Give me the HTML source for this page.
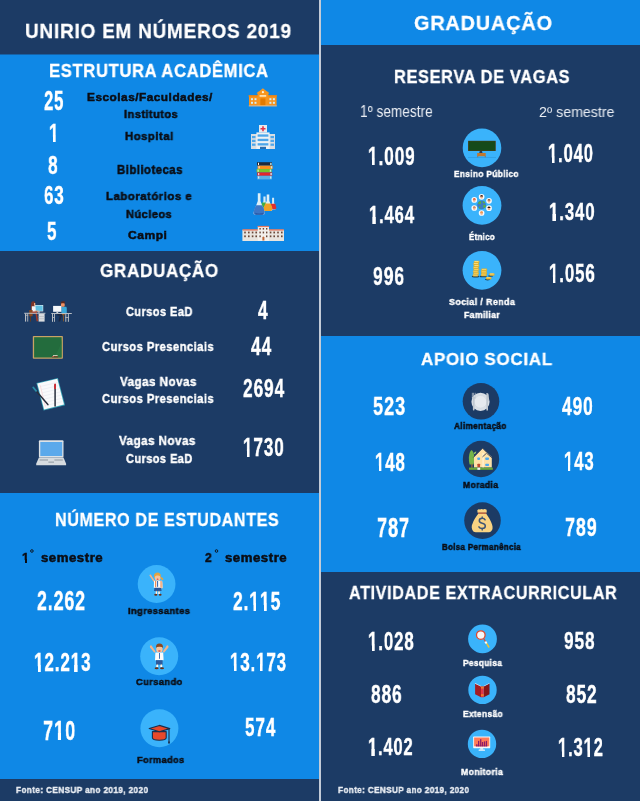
<!DOCTYPE html>
<html><head><meta charset="utf-8"><style>
*{margin:0;padding:0;box-sizing:border-box}
html,body{width:640px;height:801px;overflow:hidden;background:#1c3b65}
body{position:relative;font-family:"Liberation Sans",sans-serif}
.b{position:absolute}
.t{position:absolute;white-space:nowrap;line-height:1;transform-origin:0 0;will-change:transform}
svg{position:absolute;left:0;top:0}
.o{position:relative;display:inline-block}
.o>i{font-style:normal;display:inline-block;clip-path:inset(-1em -1em 0.36em -1em)}
.o::after{content:"";position:absolute;left:calc(0.2334em - var(--sw) - 0.2px);width:calc(0.1372em + 2*var(--sw) + 0.35px);top:0.58em;height:calc(0.2645em + var(--sw));background:currentColor}
</style></head><body>
<div class="b" style="left:0;top:0;width:319px;height:54px;background:#1c3b65"></div>
<div class="b" style="left:0;top:54px;width:319px;height:1px;background:#1662a6"></div>
<div class="b" style="left:0;top:55px;width:319px;height:196px;background:#0f88e6"></div>
<div class="b" style="left:0;top:251px;width:319px;height:242px;background:#1c3b65"></div>
<div class="b" style="left:0;top:493px;width:319px;height:286px;background:#0f88e6"></div>
<div class="b" style="left:0;top:779px;width:319px;height:22px;background:#1c3b65"></div>
<div class="b" style="left:319px;top:0;width:2px;height:801px;background:#c3cbd7"></div>
<div class="b" style="left:321px;top:0;width:319px;height:45px;background:#0f88e6"></div>
<div class="b" style="left:321px;top:45px;width:319px;height:291px;background:#1c3b65"></div>
<div class="b" style="left:321px;top:336px;width:319px;height:236px;background:#0f88e6"></div>
<div class="b" style="left:321px;top:572px;width:319px;height:229px;background:#1c3b65"></div>
<svg width="640" height="801" viewBox="0 0 640 801">
<!-- school -->
<g>
<rect x="249" y="95.6" width="27.6" height="10" fill="#f7931e"/>
<rect x="248.6" y="95.2" width="28.4" height="1.4" fill="#ee8512"/>
<rect x="257.6" y="91.8" width="10.8" height="13.8" fill="#f7961f"/>
<path d="M256.4 93.4 L262.9 88.2 L269.5 93.4 Z" fill="#f7961f"/>
<circle cx="262.9" cy="92.2" r="1.1" fill="#fff4dc"/>
<rect x="259.6" y="95" width="6.6" height="1.8" fill="#fde0b0"/>
<rect x="260.4" y="98.4" width="5" height="7.2" fill="#e47a00"/>
<g fill="#d2ecf2">
<rect x="251" y="98.2" width="2" height="2"/><rect x="254.5" y="98.2" width="2" height="2"/>
<rect x="251" y="101.8" width="2" height="2"/><rect x="254.5" y="101.8" width="2" height="2"/>
<rect x="269.4" y="98.2" width="2" height="2"/><rect x="272.9" y="98.2" width="2" height="2"/>
<rect x="269.4" y="101.8" width="2" height="2"/><rect x="272.9" y="101.8" width="2" height="2"/>
</g>
<rect x="248.8" y="105.4" width="28" height="1" fill="#f3c087"/>
</g>
<!-- hospital -->
<g>
<rect x="259" y="125" width="8" height="7.4" fill="#e6eaee"/>
<path d="M262.2 126.3h1.6v1.7h1.7v1.6h-1.7v1.7h-1.6v-1.7h-1.7v-1.6h1.7z" fill="#e3334a"/>
<rect x="251" y="134" width="24" height="15" fill="#d8dee3"/>
<rect x="256.4" y="132.4" width="13.2" height="16.6" fill="#eef2f5"/>
<g fill="#4da6ea">
<rect x="257.6" y="134.4" width="10.8" height="2.3"/>
<rect x="257.6" y="138.8" width="10.8" height="2.3"/>
<rect x="257.6" y="143.2" width="10.8" height="2.3"/>
<rect x="252" y="136" width="3.5" height="2.2"/><rect x="252" y="139.8" width="3.5" height="2.2"/><rect x="252" y="143.6" width="3.5" height="2.2"/>
<rect x="270.5" y="136" width="3.5" height="2.2"/><rect x="270.5" y="139.8" width="3.5" height="2.2"/><rect x="270.5" y="143.6" width="3.5" height="2.2"/>
</g>
<rect x="260" y="146.8" width="6" height="2.2" fill="#2a6eb0"/>
</g>
<!-- books -->
<g>
<rect x="257" y="162.2" width="15" height="3.4" fill="#1d2a3c"/>
<rect x="257.6" y="165.6" width="15" height="3.4" fill="#f7901e"/>
<rect x="256.6" y="169" width="15" height="3.4" fill="#78c42c"/>
<rect x="257.2" y="172.4" width="15" height="3.4" fill="#e3262a"/>
<rect x="257.2" y="175.8" width="14.6" height="3.6" fill="#5bb0e4"/>
<g fill="#f3f3f3"><rect x="258" y="162.8" width="1" height="2.2"/><rect x="258.6" y="166.2" width="1" height="2.2"/><rect x="257.6" y="169.6" width="1" height="2.2"/><rect x="258.2" y="173" width="1" height="2.2"/><rect x="258.2" y="176.4" width="1" height="2.2"/></g>
<g fill="#bfe6f2"><rect x="270.2" y="162.8" width="1.4" height="2.2"/><rect x="270.8" y="166.2" width="1.4" height="2.2"/><rect x="269.8" y="169.6" width="1.4" height="2.2"/><rect x="270.4" y="173" width="1.4" height="2.2"/><rect x="270" y="176.4" width="1.4" height="2.2"/></g>
</g>
<!-- flasks -->
<g>
<path d="M263.4 196.6h2.2v4.6l1.8 5q0.3 1.2-0.9 1.3h-4q-1.2-0.1-0.9-1.3l1.8-5z" fill="#eaf6fa" opacity="0.9"/>
<path d="M261.9 202.4h5l0.8 3.8q0.2 1.2-0.9 1.3h-4.8q-1.1-0.1-0.9-1.3z" fill="#42ad45"/>
<path d="M272.1 197.8h2v5l2 5.2q0.3 1.4-1.1 1.5h-3.8q-1.4-0.1-1.1-1.5l2-5.2z" fill="#eaf6fa" opacity="0.9"/>
<path d="M270.9 203.8h4.4l1 3.9q0.3 1.4-1.1 1.6h-4.2q-1.4-0.2-1.1-1.6z" fill="#df2f2f"/>
<path d="M266.7 194.4h2.6v6.4l3 8.2q0.3 1.8-1.5 2h-5.6q-1.8-0.2-1.5-2l3-8.2z" fill="#eef7fa" opacity="0.92"/>
<path d="M265.4 203.6h5.2q1.8 3.4 1.7 5.6q-0.1 1.6-1.6 1.8h-5.4q-1.5-0.2-1.6-1.8q-0.1-2.2 1.7-5.6z" fill="#efa126"/>
<path d="M257.8 193.2h2.7v7.8l4.2 11.6q0.4 2-1.6 2.2h-8q-2-0.2-1.6-2.2l4.3-11.6z" fill="#eef7fa" opacity="0.92"/>
<path d="M256.2 205.2h5.9q2.4 4.2 2.6 7.4q0.1 2-1.6 2.2h-8q-1.7-0.2-1.6-2.2q0.2-3.2 2.7-7.4z" fill="#3c76c6"/>
<path d="M255.2 212.8q3.9 1.6 8.1 0v1.2q-0.4 0.8-1 0.8h-6.2q-0.8 0-0.9-0.8z" fill="#2a5aa6"/>
</g>
<!-- campus -->
<g>
<rect x="242.4" y="229.8" width="41.6" height="11.2" fill="#e9e4de"/>
<rect x="242.6" y="229.2" width="41.2" height="1.4" fill="#e57a60"/>
<rect x="257.8" y="226.4" width="11.2" height="14.6" fill="#f3f0ec"/>
<rect x="257.6" y="225.9" width="11.6" height="1.2" fill="#e57a60"/>
<g fill="#6a4838">
<rect x="244.2" y="231.6" width="1.6" height="1.8"/><rect x="248" y="231.6" width="1.6" height="1.8"/><rect x="251.8" y="231.6" width="1.6" height="1.8"/><rect x="255.4" y="231.6" width="1.6" height="1.8"/>
<rect x="244.2" y="235.4" width="1.6" height="1.8"/><rect x="248" y="235.4" width="1.6" height="1.8"/><rect x="251.8" y="235.4" width="1.6" height="1.8"/><rect x="255.4" y="235.4" width="1.6" height="1.8"/>
<rect x="269.8" y="231.6" width="1.6" height="1.8"/><rect x="273.4" y="231.6" width="1.6" height="1.8"/><rect x="277.2" y="231.6" width="1.6" height="1.8"/><rect x="281" y="231.6" width="1.6" height="1.8"/>
<rect x="269.8" y="235.4" width="1.6" height="1.8"/><rect x="273.4" y="235.4" width="1.6" height="1.8"/><rect x="277.2" y="235.4" width="1.6" height="1.8"/><rect x="281" y="235.4" width="1.6" height="1.8"/>
<rect x="259.4" y="228" width="1.4" height="1.6"/><rect x="262.7" y="228" width="1.4" height="1.6"/><rect x="266" y="228" width="1.4" height="1.6"/>
<rect x="259.4" y="231.6" width="1.4" height="1.8"/><rect x="262.7" y="231.6" width="1.4" height="1.8"/><rect x="266" y="231.6" width="1.4" height="1.8"/>
<rect x="259.4" y="235.4" width="1.4" height="1.8"/><rect x="266" y="235.4" width="1.4" height="1.8"/>
</g>
<path d="M262.4 240.4v-3q1-1.6 2 0v3z" fill="#c0683a"/>
</g>

<!-- EaD desks -->
<g>
<!-- left desk -->
<rect x="25" y="313.6" width="1.1" height="8" fill="#b9bdc2"/>
<rect x="27.3" y="313.6" width="0.9" height="8" fill="#b9bdc2"/>
<rect x="25" y="314.8" width="3.2" height="0.8" fill="#b9bdc2"/>
<rect x="38.6" y="313.6" width="6" height="8" fill="#d9dcdf"/>
<rect x="38.6" y="316.2" width="6" height="0.5" fill="#a8adb3"/><rect x="38.6" y="318.6" width="6" height="0.5" fill="#a8adb3"/>
<rect x="34.8" y="305" width="8.4" height="6.4" fill="#eef2f4"/>
<rect x="35.3" y="305.5" width="7.4" height="5.4" fill="#5ec0e2"/>
<rect x="37.8" y="311.4" width="2" height="1.2" fill="#cfd4d8"/>
<rect x="30.2" y="316" width="0.8" height="5.6" fill="#6a3a1a"/>
<path d="M31 309.8Q30.6 304 31.6 302Q33 300.6 34.6 301.6Q35.3 302.6 35 304L34.2 306.2L33.6 309.8Z" fill="#7a3428"/>
<rect x="34" y="303" width="1.3" height="2.8" fill="#f0a880"/>
<path d="M31.8 306.2H35.2Q35.8 309 35.6 312.6H31.8Z" fill="#f2f2f4"/>
<rect x="34.6" y="310.6" width="3.8" height="1" fill="#f0a880"/>
<rect x="29.2" y="310" width="3.4" height="6.2" rx="0.5" fill="#8a4a22"/>
<path d="M32 311.6H37V313L38.2 321.3H36.6L35.5 313.5H32Z" fill="#a03a28"/>
<rect x="24.2" y="312.8" width="21.2" height="0.9" fill="#c9ccd0"/>
<!-- right desk -->
<rect x="52" y="313.9" width="1" height="7.9" fill="#b9bdc2"/>
<rect x="54" y="313.9" width="0.9" height="7.9" fill="#b9bdc2"/>
<rect x="52" y="317.2" width="2.9" height="0.8" fill="#b9bdc2"/>
<rect x="65.3" y="313.9" width="1" height="7.9" fill="#b9bdc2"/><rect x="67.9" y="313.9" width="1" height="7.9" fill="#b9bdc2"/>
<rect x="65.3" y="317.2" width="3.6" height="0.8" fill="#b9bdc2"/>
<path d="M61.4 306.8H66.2Q67 307.4 66.8 309.8V313H61.4Z" fill="#3aa8d8"/>
<rect x="61" y="302.9" width="3.7" height="3.8" rx="1" fill="#f09060"/>
<path d="M60.2 303.4Q60.6 301.2 62.6 301.2H64.2Q65.3 301.4 65.1 303.3H60.2Z" fill="#5e2a1e"/>
<rect x="53.1" y="305.9" width="8.3" height="5.9" fill="#f6f8fa"/>
<rect x="56.4" y="311.6" width="1.8" height="1.4" fill="#d0d4d8"/>
<path d="M57.4 314H62.2V315.4L60 321.4H58.4L59.8 315.4H57.4Z" fill="#1e2840"/>
<rect x="62" y="314" width="2.8" height="1.2" fill="#8a5a2a"/>
<rect x="63" y="315.2" width="0.9" height="6.2" fill="#8a5a2a"/>
<rect x="51.3" y="313" width="20.5" height="0.9" fill="#c9ccd0"/>
</g>
<!-- chalkboard -->
<g>
<rect x="32.8" y="335.9" width="30.1" height="22.9" rx="0.8" fill="#c9a364"/>
<rect x="34.1" y="337.2" width="27.5" height="20.3" fill="#236c3d"/>
<path d="M61.6 339q-1 9-8 18.5h8z" fill="#2a7744" opacity="0.7"/>
<rect x="52" y="356" width="6" height="1.4" fill="#6a4a2a"/>
<rect x="53" y="355.2" width="4.6" height="0.8" fill="#e8e4d0"/>
<rect x="52.4" y="356" width="1.4" height="0.8" fill="#e07070"/>
</g>
<!-- notepad -->
<g>
<path d="M36.4 383.1 L57.9 377.9 L65.1 405.3 L43.6 410.5 Z" fill="#36a3b6"/>
<path d="M37.3 383.6 L57.3 378.8 L64 404.6 L44.1 409.5 Z" fill="#f9fafb"/>
<g stroke="#d5dde8" stroke-width="0.35">
<path d="M40.8 386.4L57.6 382.4M41.6 389.6L58.4 385.6M42.4 392.8L59.2 388.8M43.2 396L60 392M44 399.2L60.8 395.2M44.8 402.4L61.6 398.4M45.6 405.6L62.4 401.6"/>
</g>
<path d="M40.2 385.2L45.4 406.6" stroke="#f3b0b0" stroke-width="0.4"/>
<path d="M33.6 388 L47.9 404.6" stroke="#2a2f3d" stroke-width="1.5" stroke-linecap="round"/>
<path d="M33.3 387.5 L36.1 390.8" stroke="#2a8fa8" stroke-width="1.9" stroke-linecap="round"/>
<path d="M55.1 385 L55.1 406" stroke="#343a48" stroke-width="1.6" stroke-linecap="round"/>
<path d="M55.1 384.4 L55.1 388.2" stroke="#d42a30" stroke-width="1.8" stroke-linecap="round"/>
</g>
<!-- laptop -->
<g>
<rect x="38.9" y="440.2" width="24.6" height="17.4" rx="1" fill="#dde2e6"/>
<rect x="40.3" y="442" width="21.9" height="14" fill="#5ba9eb"/>
<path d="M38.9 457.4 H63.5 L66.1 463.8 V465.2 H36.2 V463.8 Z" fill="#d6dbdf"/>
<rect x="39.6" y="459" width="8.4" height="2" fill="#b2b9bf"/>
<rect x="54.4" y="459" width="8.4" height="2" fill="#b2b9bf"/>
<rect x="48.4" y="461.4" width="5.6" height="1.6" fill="#a9b1b8"/>
</g>

<!-- circles -->
<g fill="#3ab3fb">
<circle cx="156.6" cy="584" r="18.9"/>
<circle cx="159.2" cy="656.2" r="19"/>
<circle cx="159.4" cy="728.3" r="19"/>
<circle cx="482" cy="147.9" r="19.3"/>
<circle cx="482" cy="205.4" r="19.4"/>
<circle cx="482" cy="270.3" r="19.4"/>
<circle cx="482.5" cy="638.9" r="14.4"/>
<circle cx="482.5" cy="689.9" r="14.2"/>
<circle cx="482" cy="743.9" r="14.2"/>
</g>
<g fill="#1c3b65">
<circle cx="481" cy="401.3" r="18.3"/>
<circle cx="481" cy="459" r="18.2"/>
<circle cx="482.5" cy="520.6" r="18.3"/>
</g>
<!-- girl -->
<g>
<path d="M149.4 575.6q0.4-1.4 1.6-0.8l0.8 1.4l3 4.6l-1.2 1z" fill="#f3b48a"/>
<path d="M160.2 577.2q2.6-0.6 3.4 2.4q-1.4 0.8-2.8-0.6z" fill="#e3a342"/>
<path d="M154 577.6q-0.6-5 3.4-5.2q3.6 0 3.4 5.2z" fill="#e3a342"/>
<rect x="154.8" y="575.4" width="5.6" height="5.4" rx="2.2" fill="#f7c49c"/>
<path d="M154.6 575.8q2.8-2.4 6 0v-1.2q-3-2.2-6 0z" fill="#e3a342"/>
<ellipse cx="157.6" cy="579.2" rx="0.9" ry="0.6" fill="#d8454a"/>
<path d="M154 580.8h8.2l0.4 7.2h-8.8z" fill="#fbfbfb"/>
<rect x="155.1" y="580.8" width="1.1" height="6.4" fill="#e8824a"/>
<rect x="160.5" y="580.8" width="1.1" height="6.4" fill="#e8824a"/>
<rect x="157.1" y="581" width="1" height="5.8" fill="#2b62b0"/>
<rect x="161.2" y="582.2" width="1.3" height="6.4" rx="0.6" fill="#f3b48a"/>
<path d="M154.4 587.8h6.6l0.6 3.2h-7.6z" fill="#2b5596"/>
<rect x="155.9" y="590.9" width="1.1" height="2.6" fill="#f7c49c"/><rect x="158.5" y="590.9" width="1.1" height="2.6" fill="#f7c49c"/>
<rect x="155.7" y="592.2" width="1.5" height="1.8" fill="#ffffff"/><rect x="158.3" y="592.2" width="1.5" height="1.8" fill="#ffffff"/>
<ellipse cx="155.8" cy="594.8" rx="1.6" ry="0.95" fill="#6a3018"/><ellipse cx="160.2" cy="594.8" rx="1.4" ry="0.95" fill="#6a3018"/>
</g>
<!-- boy -->
<g>
<path d="M150 647.4q-0.6-1.8 0.8-2.2q1.4 0.2 1.4 1.4l3.4 5l-1.2 1.2z" fill="#f3b48a"/>
<path d="M168.4 647.4q0.6-1.8-0.8-2.2q-1.4 0.2-1.4 1.4l-3.4 5l1.2 1.2z" fill="#f3b48a"/>
<path d="M156 647.6q-0.2-3.8 3.4-4q3.8 0.2 3.6 4z" fill="#8b4a22"/>
<rect x="156.2" y="646.4" width="6.4" height="6" rx="2.4" fill="#f7c49c"/>
<path d="M156.1 647.6q0.4-2.6 3.3-2.8q3 0.2 3.3 2.8q-1.6-1-3.3-1q-1.7 0-3.3 1z" fill="#8b4a22"/>
<ellipse cx="159.4" cy="651" rx="1.3" ry="0.7" fill="#d8454a"/>
<path d="M155.4 652.4h7.8l0.4 7.8h-8.6z" fill="#fbfbfb"/>
<rect x="159" y="653" width="0.9" height="5.8" fill="#2b62b0"/>
<path d="M156 660.2h6.6v4.4h-6.6z" fill="#2c5a9c"/>
<rect x="156.6" y="664.4" width="1.4" height="2.6" fill="#f7c49c"/><rect x="160.6" y="664.4" width="1.4" height="2.6" fill="#f7c49c"/>
<rect x="156.4" y="665.2" width="1.8" height="1.8" fill="#fff"/><rect x="160.4" y="665.2" width="1.8" height="1.8" fill="#fff"/>
<ellipse cx="156.6" cy="668.2" rx="2" ry="1" fill="#6a3018"/><ellipse cx="162" cy="668.2" rx="2" ry="1" fill="#6a3018"/>
</g>
<!-- grad cap -->
<g stroke="#1c2e4c" stroke-width="1.1" stroke-linejoin="round">
<path d="M152.4 731.6v6.2q0 2.4 6.9 2.4t6.9-2.4v-6.2z" fill="#e8492b"/>
<path d="M149.2 728.6 L159.4 725.4 L169.8 728.6 L159.4 731.8 Z" fill="#e8492b"/>
<path d="M169 729v12.4" fill="none"/>
</g>
<path d="M150.6 728.4 L159.4 725.9 L168.4 728.4" stroke="#3ab3fb" stroke-width="0.9" fill="none" opacity="0.0"/>
<ellipse cx="169" cy="742.4" rx="0.9" ry="1.3" fill="#1c2e4c"/>
<!-- reserva: chalkboard -->
<g>
<rect x="468.1" y="140.8" width="27.6" height="10.2" fill="#5a3a1a"/>
<rect x="468.6" y="141.3" width="26.6" height="9.2" fill="#154a19"/>
<path d="M479.2 153.2Q479.4 150.4 480.8 150.4Q482.4 150.4 482.6 153.2Z" fill="#2a3a52"/>
<rect x="477.2" y="153" width="8.5" height="3.2" fill="#c0782e"/>
<rect x="477.4" y="156.2" width="0.8" height="1.4" fill="#a0602a"/><rect x="484.8" y="156.2" width="0.8" height="1.4" fill="#a0602a"/>
<rect x="468" y="157.3" width="28" height="0.7" fill="#2f9be0"/>
</g>
<!-- reserva: globe with faces -->
<g>
<circle cx="481.6" cy="204.9" r="4.4" fill="#3c7cc2"/>
<path d="M478 203.2q1.2-2.4 3-1.8q0.6 1.6-0.6 2.6q-1.4 0.6-2.4-0.8z M482.6 201.2q2 0 2.6 1.4q-0.6 1-1.8 0.6z M483.4 205q1.6-0.6 2.4 1q-0.4 1.8-1.8 2q-1.2-1.2-0.6-3z M479.2 206.4q1.2 0 1.4 1.6q-0.6 0.8-1.6 0.2z" fill="#5db03c"/>
<circle cx="481.6" cy="196.8" r="2.85" fill="#fbfbfb"/>
<rect x="480.3" y="195.4" width="2.6" height="3.2" rx="1" fill="#eeb08a"/>
<path d="M480.2 195.8q1.3-1.6 2.8 0v0.8h-2.8z" fill="#3a2018"/>
<circle cx="489.0" cy="200.8" r="2.85" fill="#fbfbfb"/>
<rect x="487.7" y="199.4" width="2.6" height="3.2" rx="1" fill="#eeb08a"/>
<path d="M487.6 199.8q1.3-1.6 2.8 0v0.8h-2.8z" fill="#8a5030"/>
<circle cx="489.0" cy="208.2" r="2.85" fill="#fbfbfb"/>
<rect x="487.7" y="206.8" width="2.6" height="3.2" rx="1" fill="#eeb08a"/>
<path d="M487.6 207.2q1.3-1.6 2.8 0v0.8h-2.8z" fill="#2a1a10"/>
<circle cx="481.6" cy="213.0" r="2.85" fill="#fbfbfb"/>
<rect x="480.3" y="211.6" width="2.6" height="3.2" rx="1" fill="#eeb08a"/>
<path d="M480.2 212.0q1.3-1.6 2.8 0v0.8h-2.8z" fill="#f09040"/>
<circle cx="474.3" cy="208.0" r="2.85" fill="#fbfbfb"/>
<rect x="473.0" y="206.6" width="2.6" height="3.2" rx="1" fill="#eeb08a"/>
<path d="M472.9 207.0q1.3-1.6 2.8 0v0.8h-2.8z" fill="#c08060"/>
<circle cx="474.3" cy="199.9" r="2.85" fill="#fbfbfb"/>
<rect x="473.0" y="198.5" width="2.6" height="3.2" rx="1" fill="#eeb08a"/>
<path d="M472.9 198.9q1.3-1.6 2.8 0v0.8h-2.8z" fill="#e0603a"/>
</g>
<!-- reserva: coins -->
<g>
<ellipse cx="475.6" cy="276.6" rx="3.8" ry="1" fill="#0d1a2a" opacity="0.75"/>
<ellipse cx="483.2" cy="276.4" rx="3.4" ry="0.9" fill="#0d1a2a" opacity="0.75"/>
<ellipse cx="487.6" cy="279.6" rx="2.8" ry="0.8" fill="#0d1a2a" opacity="0.75"/>
<ellipse cx="490.6" cy="276" rx="2.6" ry="0.8" fill="#0d1a2a" opacity="0.75"/>
<rect x="472.6" y="274.2" width="5.8" height="2.3" rx="1.1" fill="#e2b22e"/>
<rect x="473.2" y="274.5" width="4.4" height="0.9" rx="0.45" fill="#f7dc7c"/>
<rect x="473.2" y="272.3" width="5.8" height="2.3" rx="1.1" fill="#e2b22e"/>
<rect x="473.8" y="272.6" width="4.4" height="0.9" rx="0.45" fill="#f7dc7c"/>
<rect x="472.8" y="270.4" width="5.8" height="2.3" rx="1.1" fill="#e2b22e"/>
<rect x="473.4" y="270.7" width="4.4" height="0.9" rx="0.45" fill="#f7dc7c"/>
<rect x="473.4" y="268.5" width="5.8" height="2.3" rx="1.1" fill="#e2b22e"/>
<rect x="474.0" y="268.8" width="4.4" height="0.9" rx="0.45" fill="#f7dc7c"/>
<rect x="473.0" y="266.6" width="5.8" height="2.3" rx="1.1" fill="#e2b22e"/>
<rect x="473.6" y="266.9" width="4.4" height="0.9" rx="0.45" fill="#f7dc7c"/>
<rect x="473.6" y="264.7" width="5.8" height="2.3" rx="1.1" fill="#e2b22e"/>
<rect x="474.2" y="265.0" width="4.4" height="0.9" rx="0.45" fill="#f7dc7c"/>
<rect x="473.2" y="262.8" width="5.8" height="2.3" rx="1.1" fill="#e2b22e"/>
<rect x="473.8" y="263.1" width="4.4" height="0.9" rx="0.45" fill="#f7dc7c"/>
<rect x="473.7" y="260.8" width="5.8" height="2.3" rx="1.1" fill="#e2b22e"/>
<rect x="474.3" y="261.1" width="4.4" height="0.9" rx="0.45" fill="#f7dc7c"/>
<rect x="480.8" y="274.0" width="6.0" height="2.3" rx="1.1" fill="#e2b22e"/>
<rect x="481.4" y="274.3" width="4.6" height="0.9" rx="0.45" fill="#f7dc7c"/>
<rect x="481.1" y="272.1" width="6.0" height="2.3" rx="1.1" fill="#e2b22e"/>
<rect x="481.7" y="272.4" width="4.6" height="0.9" rx="0.45" fill="#f7dc7c"/>
<rect x="480.9" y="270.2" width="6.0" height="2.3" rx="1.1" fill="#e2b22e"/>
<rect x="481.5" y="270.5" width="4.6" height="0.9" rx="0.45" fill="#f7dc7c"/>
<rect x="481.2" y="268.6" width="6.0" height="2.3" rx="1.1" fill="#e2b22e"/>
<rect x="481.8" y="268.9" width="4.6" height="0.9" rx="0.45" fill="#f7dc7c"/>
<rect x="489.2" y="273.2" width="5.4" height="2.5" rx="1.1" fill="#e2b22e"/>
<rect x="489.8" y="273.5" width="4.0" height="0.9" rx="0.45" fill="#f7dc7c"/>
<rect x="485.9" y="277.0" width="5.6" height="2.5" rx="1.1" fill="#e2b22e"/>
<rect x="486.5" y="277.3" width="4.2" height="0.9" rx="0.45" fill="#f7dc7c"/>
</g>
<!-- plate -->
<g>
<circle cx="480.5" cy="401.8" r="9.1" fill="#d9dfe6"/>
<circle cx="480.5" cy="401.8" r="6.3" fill="#e6eaef" stroke="#cdd4dc" stroke-width="0.5"/>
<g fill="#bfc7d0">
<rect x="472.9" y="398" width="1.6" height="12.4" rx="0.7"/>
<rect x="471.9" y="392.8" width="0.7" height="4.6"/><rect x="473.35" y="392.8" width="0.7" height="4.6"/><rect x="474.8" y="392.8" width="0.7" height="4.6"/>
<path d="M471.9 397h3.6v1.6q-1.8 0.8-3.6 0z"/>
<path d="M486.4 393q2.4-0.6 2.4 3.4v4.8h-0.8v9.2h-1.6z"/>
</g>
</g>
<!-- house -->
<g>
<path d="M469.6 464.6Q468.6 461 468.9 457Q469.4 451.8 471.6 450.1Q473.8 451.8 474.3 457Q474.6 461 473.6 464.6Z" fill="#74b448"/>
<path d="M473.8 453.6Q474.4 451.6 476.4 451.6Q476.2 453.6 474.2 454.2Z" fill="#9ccf6a"/>
<rect x="471.3" y="463.8" width="1.2" height="4" fill="#a0703a"/>
<path d="M474 467.6V456.8L482.6 448.2L486.6 452.2L491.8 457V467.6Z" fill="#fde1a8"/>
<rect x="482.4" y="453" width="1.4" height="14.6" fill="#fff0cf"/>
<path d="M473.6 457.2L482.6 448.2L486.4 452" stroke="#3a4258" stroke-width="0.9" fill="none" stroke-linecap="round"/>
<path d="M482.8 456.6L486.6 453.2L492 457.8" stroke="#3a4258" stroke-width="0.9" fill="none" stroke-linecap="round"/>
<g fill="#4aa8f0"><rect x="477.2" y="457.6" width="2.9" height="2.3" rx="0.8"/><rect x="485.2" y="457.6" width="3.8" height="2.3" rx="0.8"/><rect x="485.2" y="463.7" width="3.8" height="2.3" rx="0.8"/></g>
<rect x="477.4" y="463.7" width="2.7" height="3.9" rx="0.6" fill="#c24a30"/>
<rect x="469" y="467.6" width="23.8" height="2.2" fill="#6aa83a"/>
<rect x="477.4" y="467.7" width="2.8" height="2.1" fill="#f6f6f6"/>
</g>
<!-- money bag -->
<g>
<path d="M477.6 512.8L477.3 510.2Q478.4 508.9 480 509.6Q481.5 508.5 483.1 509.4Q484.7 508.6 486.4 509.6Q487.2 510.8 486.5 512.8Z" fill="#f9d382"/>
<path d="M478.4 513.6C476 517 473.5 520 472.6 523.6C471.3 525.8 471.4 529 473 531C474 532.3 476 532.4 478 532.3L487 532.3C489.5 532.4 491.8 531.8 492.5 529C493.1 526 491.6 523 490.6 521C489.1 518 487.6 516 486.1 513.6Z" fill="#f9d382"/>
<rect x="478.2" y="512.5" width="8" height="1.3" fill="#c8603a"/>
<path d="M485.1 519.8Q484.3 518.3 482.2 518.3Q479.3 518.3 479.3 520.8Q479.3 522.8 482.2 523.2Q485.3 523.6 485.3 526Q485.3 528.5 482.2 528.5Q479.7 528.5 478.9 526.9" fill="none" stroke="#3e5575" stroke-width="1.5" stroke-linecap="round"/>
<path d="M482.2 516.8V518.4M482.2 528.4V530" stroke="#3e5575" stroke-width="1.3" stroke-linecap="round"/>
</g>
<!-- magnifier -->
<g stroke-linecap="round">
<path d="M483.8 638.8L485.6 641.8" stroke="#e04a2e" stroke-width="1.1"/>
<path d="M486.6 643.4L488.8 647" stroke="#f2c230" stroke-width="1.5"/>
<path d="M485.3 641.6L486.6 643.5" stroke="#ffffff" stroke-width="1.9" stroke-linecap="butt"/>
<circle cx="480.8" cy="635.1" r="4.3" fill="#f6f7f8" stroke="#e04a2e" stroke-width="1.3"/>
</g>
<!-- book -->
<g>
<path d="M475.1 683.6L481 686.5V697.3L475.1 694.3Z" fill="#a51c22"/>
<path d="M483.7 686.5L489.5 683.4V694.3L483.7 697.3Z" fill="#86161a"/>
<path d="M475.1 683.1L481 686V686.6L475.1 683.7Z M483.7 686L489.5 682.9V683.5L483.7 686.6Z" fill="#f4f4f4"/>
<rect x="481" y="686.4" width="2.7" height="10.9" fill="#e23444"/>
<rect x="481" y="686.6" width="2.7" height="2" fill="#f07a2a"/>
<rect x="481" y="694.2" width="2.7" height="2" fill="#f07a2a"/>
</g>
<!-- monitor -->
<g>
<rect x="473.2" y="736.6" width="17" height="11.6" rx="0.6" fill="#f6f8fa"/>
<rect x="474.1" y="737.5" width="15.2" height="8.8" fill="#ff7a58"/>
<g fill="#8a1a6a">
<rect x="476.2" y="744.2" width="1.25" height="2.1"/>
<rect x="478.0" y="740.9" width="1.25" height="5.4"/>
<rect x="480.1" y="739.2" width="1.25" height="7.1"/>
<rect x="481.9" y="742.0" width="1.25" height="4.3"/>
<rect x="483.9" y="741.4" width="1.25" height="4.9"/>
<rect x="485.8" y="740.9" width="1.25" height="5.4"/>
<rect x="475.8" y="745.6" width="11.6" height="0.7"/>
</g>
<rect x="480.2" y="748" width="3" height="1.6" fill="#dfe9f2"/>
<rect x="478.6" y="749.4" width="6.4" height="1.4" rx="0.5" fill="#f6f8fa"/>
</g>
<!-- degree rings -->
<g fill="none" stroke="#0b0d14" stroke-width="0.9">
<circle cx="31.9" cy="551" r="1.3"/>
<circle cx="216.5" cy="551" r="1.3"/>
</g>
</svg>

<div class="t" style="left:25.05px;top:20.3px;font-size:21.08px;font-weight:700;color:#ffffff;transform:scaleX(0.9);-webkit-text-stroke:0.3px #ffffff;letter-spacing:0.86px;">UNIRIO EM NÚMEROS 2019</div>
<div class="t" style="left:48.74px;top:61.62px;font-size:18.46px;font-weight:700;color:#ffffff;transform:scaleX(0.9);-webkit-text-stroke:0.3px #ffffff;letter-spacing:0.74px;">ESTRUTURA ACADÊMICA</div>
<div class="t" style="left:43.54px;top:87.6px;font-size:26.96px;font-weight:700;color:#ffffff;transform:scaleX(0.62);-webkit-text-stroke:0.45px #ffffff;letter-spacing:1.35px;--bg:#0f88e6;--sw:0.23px;">25</div>
<div class="t" style="left:48.55px;top:119.67px;font-size:26.24px;font-weight:700;color:#ffffff;transform:scaleX(0.66);-webkit-text-stroke:0.45px #ffffff;letter-spacing:1.31px;--bg:#0f88e6;--sw:0.23px;"><span class="o"><i>1</i></span></div>
<div class="t" style="left:47.73px;top:151.53px;font-size:26.45px;font-weight:700;color:#ffffff;transform:scaleX(0.66);-webkit-text-stroke:0.45px #ffffff;letter-spacing:1.32px;--bg:#0f88e6;--sw:0.23px;">8</div>
<div class="t" style="left:44.35px;top:181.54px;font-size:26.09px;font-weight:700;color:#ffffff;transform:scaleX(0.65);-webkit-text-stroke:0.45px #ffffff;letter-spacing:1.3px;--bg:#0f88e6;--sw:0.23px;">63</div>
<div class="t" style="left:47.33px;top:218.71px;font-size:25.94px;font-weight:700;color:#ffffff;transform:scaleX(0.66);-webkit-text-stroke:0.45px #ffffff;letter-spacing:1.3px;--bg:#0f88e6;--sw:0.23px;">5</div>
<div class="t" style="left:87.24px;top:90.63px;font-size:11.72px;font-weight:700;color:#0b0d14;transform:scaleX(1.01);-webkit-text-stroke:0.5px #0b0d14;letter-spacing:0.49px;">Escolas/Faculdades/</div>
<div class="t" style="left:124.03px;top:108.13px;font-size:11.72px;font-weight:700;color:#0b0d14;transform:scaleX(0.94);-webkit-text-stroke:0.5px #0b0d14;letter-spacing:0.49px;">Institutos</div>
<div class="t" style="left:124.63px;top:129.93px;font-size:11.72px;font-weight:700;color:#0b0d14;transform:scaleX(0.97);-webkit-text-stroke:0.5px #0b0d14;letter-spacing:0.49px;">Hospital</div>
<div class="t" style="left:116.73px;top:163.66px;font-size:12.39px;font-weight:700;color:#0b0d14;transform:scaleX(0.92);-webkit-text-stroke:0.5px #0b0d14;letter-spacing:0.51px;">Bibliotecas</div>
<div class="t" style="left:106.44px;top:190.74px;font-size:11.82px;font-weight:700;color:#0b0d14;transform:scaleX(0.97);-webkit-text-stroke:0.5px #0b0d14;letter-spacing:0.48px;">Laboratórios e</div>
<div class="t" style="left:126.14px;top:207.53px;font-size:11.77px;font-weight:700;color:#0b0d14;transform:scaleX(0.94);-webkit-text-stroke:0.5px #0b0d14;letter-spacing:0.47px;">Núcleos</div>
<div class="t" style="left:127.55px;top:228.53px;font-size:11.72px;font-weight:700;color:#0b0d14;transform:scaleX(1.03);-webkit-text-stroke:0.5px #0b0d14;letter-spacing:0.49px;">Campi</div>
<div class="t" style="left:99.94px;top:261.58px;font-size:18.75px;font-weight:700;color:#ffffff;transform:scaleX(0.91);-webkit-text-stroke:0.3px #ffffff;letter-spacing:0.75px;">GRADUAÇÃO</div>
<div class="t" style="left:126.07px;top:305.7px;font-size:12.94px;font-weight:700;color:#ffffff;transform:scaleX(0.85);-webkit-text-stroke:0.4px #ffffff;letter-spacing:0.52px;">Cursos EaD</div>
<div class="t" style="left:101.66px;top:339.58px;font-size:13.66px;font-weight:700;color:#ffffff;transform:scaleX(0.82);-webkit-text-stroke:0.4px #ffffff;letter-spacing:0.55px;">Cursos Presenciais</div>
<div class="t" style="left:119.98px;top:375.7px;font-size:12.65px;font-weight:700;color:#ffffff;transform:scaleX(0.92);-webkit-text-stroke:0.4px #ffffff;letter-spacing:0.51px;">Vagas Novas</div>
<div class="t" style="left:101.66px;top:391.53px;font-size:13.66px;font-weight:700;color:#ffffff;transform:scaleX(0.82);-webkit-text-stroke:0.4px #ffffff;letter-spacing:0.55px;">Cursos Presenciais</div>
<div class="t" style="left:119.28px;top:434.57px;font-size:12.79px;font-weight:700;color:#ffffff;transform:scaleX(0.91);-webkit-text-stroke:0.4px #ffffff;letter-spacing:0.51px;">Vagas Novas</div>
<div class="t" style="left:125.78px;top:452.64px;font-size:12.35px;font-weight:700;color:#ffffff;transform:scaleX(0.89);-webkit-text-stroke:0.4px #ffffff;letter-spacing:0.49px;">Cursos EaD</div>
<div class="t" style="left:257.98px;top:296.54px;font-size:26.09px;font-weight:700;color:#ffffff;transform:scaleX(0.66);-webkit-text-stroke:0.45px #ffffff;letter-spacing:1.3px;--bg:#1c3b65;--sw:0.23px;">4</div>
<div class="t" style="left:251.45px;top:332.77px;font-size:26.24px;font-weight:700;color:#ffffff;transform:scaleX(0.66);-webkit-text-stroke:0.45px #ffffff;letter-spacing:1.31px;--bg:#1c3b65;--sw:0.23px;">44</div>
<div class="t" style="left:242.55px;top:374.77px;font-size:26.24px;font-weight:700;color:#ffffff;transform:scaleX(0.66);-webkit-text-stroke:0.45px #ffffff;letter-spacing:1.31px;--bg:#1c3b65;--sw:0.23px;">2694</div>
<div class="t" style="left:243.25px;top:433.64px;font-size:26.38px;font-weight:700;color:#ffffff;transform:scaleX(0.65);-webkit-text-stroke:0.45px #ffffff;letter-spacing:1.32px;--bg:#1c3b65;--sw:0.23px;"><span class="o"><i>1</i></span>730</div>
<div class="t" style="left:54.77px;top:510.71px;font-size:18.9px;font-weight:700;color:#ffffff;transform:scaleX(0.85);-webkit-text-stroke:0.3px #ffffff;letter-spacing:0.76px;">NÚMERO DE ESTUDANTES</div>
<div class="t" style="left:22.09px;top:551.63px;font-size:12.57px;font-weight:700;color:#0b0d14;-webkit-text-stroke:0.45px #0b0d14;letter-spacing:0.63px;--bg:#0f88e6;--sw:0.23px;"><span class="o"><i>1</i></span></div>
<div class="t" style="left:204.93px;top:550.58px;font-size:13.2px;font-weight:700;color:#0b0d14;transform:scaleX(0.92);-webkit-text-stroke:0.5px #0b0d14;letter-spacing:0.53px;">2</div>
<div class="t" style="left:40.67px;top:551.74px;font-size:12.12px;font-weight:700;color:#0b0d14;transform:scaleX(1.09);-webkit-text-stroke:0.5px #0b0d14;letter-spacing:0.48px;">semestre</div>
<div class="t" style="left:225.37px;top:551.74px;font-size:12.12px;font-weight:700;color:#0b0d14;transform:scaleX(1.09);-webkit-text-stroke:0.5px #0b0d14;letter-spacing:0.48px;">semestre</div>
<div class="t" style="left:37.05px;top:587.55px;font-size:26.96px;font-weight:700;color:#ffffff;transform:scaleX(0.66);-webkit-text-stroke:0.45px #ffffff;letter-spacing:1.35px;--bg:#0f88e6;--sw:0.23px;">2.262</div>
<div class="t" style="left:233.05px;top:587.67px;font-size:26.53px;font-weight:700;color:#ffffff;transform:scaleX(0.66);-webkit-text-stroke:0.45px #ffffff;letter-spacing:1.33px;--bg:#0f88e6;--sw:0.23px;">2.<span class="o"><i>1</i></span><span class="o"><i>1</i></span>5</div>
<div class="t" style="left:33.68px;top:649.68px;font-size:25.51px;font-weight:700;color:#ffffff;transform:scaleX(0.67);-webkit-text-stroke:0.45px #ffffff;letter-spacing:1.28px;--bg:#0f88e6;--sw:0.23px;"><span class="o"><i>1</i></span>2.2<span class="o"><i>1</i></span>3</div>
<div class="t" style="left:230px;top:648.74px;font-size:26.09px;font-weight:700;color:#ffffff;transform:scaleX(0.65);-webkit-text-stroke:0.45px #ffffff;letter-spacing:1.3px;--bg:#0f88e6;--sw:0.23px;"><span class="o"><i>1</i></span>3.<span class="o"><i>1</i></span>73</div>
<div class="t" style="left:42.68px;top:716.58px;font-size:27.11px;font-weight:700;color:#ffffff;transform:scaleX(0.67);-webkit-text-stroke:0.45px #ffffff;letter-spacing:1.36px;--bg:#0f88e6;--sw:0.23px;">7<span class="o"><i>1</i></span>0</div>
<div class="t" style="left:244.85px;top:713.64px;font-size:26.38px;font-weight:700;color:#ffffff;transform:scaleX(0.65);-webkit-text-stroke:0.45px #ffffff;letter-spacing:1.32px;--bg:#0f88e6;--sw:0.23px;">574</div>
<div class="t" style="left:128.23px;top:605.8px;font-size:9.63px;font-weight:700;color:#0b0d14;transform:scaleX(0.97);-webkit-text-stroke:0.5px #0b0d14;letter-spacing:0.4px;">Ingressantes</div>
<div class="t" style="left:136.04px;top:676.56px;font-size:9.74px;font-weight:700;color:#0b0d14;transform:scaleX(0.96);-webkit-text-stroke:0.5px #0b0d14;letter-spacing:0.39px;">Cursando</div>
<div class="t" style="left:137.24px;top:754.73px;font-size:9.59px;font-weight:700;color:#0b0d14;transform:scaleX(0.96);-webkit-text-stroke:0.5px #0b0d14;letter-spacing:0.38px;">Formados</div>
<div class="t" style="left:15.66px;top:784.97px;font-size:9.9px;font-weight:700;color:#e9edf3;transform:scaleX(0.84);-webkit-text-stroke:0.4px #e9edf3;letter-spacing:0.4px;">Fonte: CENSUP ano 2019, 2020</div>
<div class="t" style="left:413.89px;top:12.68px;font-size:20.94px;font-weight:700;color:#ffffff;transform:scaleX(0.95);-webkit-text-stroke:0.3px #ffffff;letter-spacing:0.85px;">GRADUAÇÃO</div>
<div class="t" style="left:394.25px;top:67.5px;font-size:18.6px;font-weight:700;color:#ffffff;transform:scaleX(0.88);-webkit-text-stroke:0.3px #ffffff;letter-spacing:0.74px;">RESERVA DE VAGAS</div>
<div class="t" style="left:359.59px;top:103.62px;font-size:15.57px;font-weight:400;color:#e9edf3;transform:scaleX(0.88);">1º semestre</div>
<div class="t" style="left:539.2px;top:104.63px;font-size:14.37px;font-weight:400;color:#e9edf3;transform:scaleX(0.99);">2º semestre</div>
<div class="t" style="left:367.89px;top:142.62px;font-size:26.24px;font-weight:700;color:#ffffff;transform:scaleX(0.66);-webkit-text-stroke:0.45px #ffffff;letter-spacing:1.31px;--bg:#1c3b65;--sw:0.23px;"><span class="o"><i>1</i></span>.009</div>
<div class="t" style="left:547.5px;top:140.71px;font-size:25.65px;font-weight:700;color:#ffffff;transform:scaleX(0.65);-webkit-text-stroke:0.45px #ffffff;letter-spacing:1.28px;--bg:#1c3b65;--sw:0.23px;"><span class="o"><i>1</i></span>.040</div>
<div class="t" style="left:368.75px;top:202.51px;font-size:24.77px;font-weight:700;color:#ffffff;transform:scaleX(0.67);-webkit-text-stroke:0.45px #ffffff;letter-spacing:1.29px;--bg:#1c3b65;--sw:0.23px;"><span class="o"><i>1</i></span>.464</div>
<div class="t" style="left:548.89px;top:199.59px;font-size:24.78px;font-weight:700;color:#ffffff;transform:scaleX(0.68);-webkit-text-stroke:0.45px #ffffff;letter-spacing:1.26px;--bg:#1c3b65;--sw:0.23px;"><span class="o"><i>1</i></span>.340</div>
<div class="t" style="left:373.35px;top:262.59px;font-size:26.57px;font-weight:700;color:#ffffff;transform:scaleX(0.66);-webkit-text-stroke:0.45px #ffffff;letter-spacing:1.36px;--bg:#1c3b65;--sw:0.23px;">996</div>
<div class="t" style="left:548.9px;top:259.58px;font-size:26.45px;font-weight:700;color:#ffffff;transform:scaleX(0.64);-webkit-text-stroke:0.45px #ffffff;letter-spacing:1.32px;--bg:#1c3b65;--sw:0.23px;"><span class="o"><i>1</i></span>.056</div>
<div class="t" style="left:454.27px;top:168.63px;font-size:9.59px;font-weight:700;color:#ffffff;transform:scaleX(0.87);-webkit-text-stroke:0.4px #ffffff;letter-spacing:0.38px;">Ensino Público</div>
<div class="t" style="left:468.97px;top:232.55px;font-size:9.16px;font-weight:700;color:#ffffff;transform:scaleX(0.86);-webkit-text-stroke:0.4px #ffffff;letter-spacing:0.37px;">Étnico</div>
<div class="t" style="left:448.58px;top:296.51px;font-size:9.74px;font-weight:700;color:#ffffff;transform:scaleX(0.92);-webkit-text-stroke:0.4px #ffffff;letter-spacing:0.39px;">Social / Renda</div>
<div class="t" style="left:463.88px;top:309.51px;font-size:9.74px;font-weight:700;color:#ffffff;transform:scaleX(0.89);-webkit-text-stroke:0.4px #ffffff;letter-spacing:0.39px;">Familiar</div>
<div class="t" style="left:421.44px;top:350.65px;font-size:17.3px;font-weight:700;color:#ffffff;transform:scaleX(0.98);-webkit-text-stroke:0.3px #ffffff;letter-spacing:0.72px;">APOIO SOCIAL</div>
<div class="t" style="left:373.15px;top:392.63px;font-size:26.28px;font-weight:700;color:#ffffff;transform:scaleX(0.69);-webkit-text-stroke:0.45px #ffffff;letter-spacing:1.34px;--bg:#0f88e6;--sw:0.23px;">523</div>
<div class="t" style="left:562.35px;top:392.69px;font-size:26.09px;font-weight:700;color:#ffffff;transform:scaleX(0.67);-webkit-text-stroke:0.45px #ffffff;letter-spacing:1.3px;--bg:#0f88e6;--sw:0.23px;">490</div>
<div class="t" style="left:375.31px;top:448.63px;font-size:26.28px;font-weight:700;color:#ffffff;transform:scaleX(0.64);-webkit-text-stroke:0.45px #ffffff;letter-spacing:1.34px;--bg:#0f88e6;--sw:0.23px;"><span class="o"><i>1</i></span>48</div>
<div class="t" style="left:563.91px;top:447.65px;font-size:26.67px;font-weight:700;color:#ffffff;transform:scaleX(0.63);-webkit-text-stroke:0.45px #ffffff;letter-spacing:1.33px;--bg:#0f88e6;--sw:0.23px;"><span class="o"><i>1</i></span>43</div>
<div class="t" style="left:376.58px;top:513.68px;font-size:27.11px;font-weight:700;color:#ffffff;transform:scaleX(0.67);-webkit-text-stroke:0.45px #ffffff;letter-spacing:1.36px;--bg:#0f88e6;--sw:0.23px;">787</div>
<div class="t" style="left:564.73px;top:513.83px;font-size:26.28px;font-weight:700;color:#ffffff;transform:scaleX(0.68);-webkit-text-stroke:0.45px #ffffff;letter-spacing:1.34px;--bg:#0f88e6;--sw:0.23px;">789</div>
<div class="t" style="left:454.32px;top:421.7px;font-size:9.16px;font-weight:700;color:#0b0d14;transform:scaleX(0.9);-webkit-text-stroke:0.5px #0b0d14;letter-spacing:0.37px;">Alimentação</div>
<div class="t" style="left:462.94px;top:480.64px;font-size:8.87px;font-weight:700;color:#0b0d14;transform:scaleX(0.97);-webkit-text-stroke:0.5px #0b0d14;letter-spacing:0.35px;">Moradia</div>
<div class="t" style="left:442.32px;top:542.55px;font-size:9.16px;font-weight:700;color:#0b0d14;transform:scaleX(0.87);-webkit-text-stroke:0.5px #0b0d14;letter-spacing:0.37px;">Bolsa Permanência</div>
<div class="t" style="left:349.03px;top:583.58px;font-size:18.75px;font-weight:700;color:#ffffff;transform:scaleX(0.86);-webkit-text-stroke:0.3px #ffffff;letter-spacing:0.75px;">ATIVIDADE EXTRACURRICULAR</div>
<div class="t" style="left:367.59px;top:628.51px;font-size:25.65px;font-weight:700;color:#ffffff;transform:scaleX(0.66);-webkit-text-stroke:0.45px #ffffff;letter-spacing:1.28px;--bg:#1c3b65;--sw:0.23px;"><span class="o"><i>1</i></span>.028</div>
<div class="t" style="left:563.75px;top:628.62px;font-size:24.7px;font-weight:700;color:#ffffff;transform:scaleX(0.7);-webkit-text-stroke:0.45px #ffffff;letter-spacing:1.29px;--bg:#1c3b65;--sw:0.23px;">958</div>
<div class="t" style="left:371.35px;top:680.72px;font-size:26.24px;font-weight:700;color:#ffffff;transform:scaleX(0.66);-webkit-text-stroke:0.45px #ffffff;letter-spacing:1.31px;--bg:#1c3b65;--sw:0.23px;">886</div>
<div class="t" style="left:565.95px;top:680.67px;font-size:26.24px;font-weight:700;color:#ffffff;transform:scaleX(0.66);-webkit-text-stroke:0.45px #ffffff;letter-spacing:1.31px;--bg:#1c3b65;--sw:0.23px;">852</div>
<div class="t" style="left:368.3px;top:734.73px;font-size:24.63px;font-weight:700;color:#ffffff;transform:scaleX(0.67);-webkit-text-stroke:0.45px #ffffff;letter-spacing:1.28px;--bg:#1c3b65;--sw:0.23px;"><span class="o"><i>1</i></span>.402</div>
<div class="t" style="left:558.1px;top:734.71px;font-size:25.94px;font-weight:700;color:#ffffff;transform:scaleX(0.64);-webkit-text-stroke:0.45px #ffffff;letter-spacing:1.3px;--bg:#1c3b65;--sw:0.23px;"><span class="o"><i>1</i></span>.3<span class="o"><i>1</i></span>2</div>
<div class="t" style="left:462.79px;top:658.69px;font-size:8.87px;font-weight:700;color:#ffffff;transform:scaleX(0.94);-webkit-text-stroke:0.4px #ffffff;letter-spacing:0.35px;">Pesquisa</div>
<div class="t" style="left:462.79px;top:709.62px;font-size:8.72px;font-weight:700;color:#ffffff;transform:scaleX(0.96);-webkit-text-stroke:0.4px #ffffff;letter-spacing:0.35px;">Extensão</div>
<div class="t" style="left:460.8px;top:767.69px;font-size:8.87px;font-weight:700;color:#ffffff;transform:scaleX(0.98);-webkit-text-stroke:0.4px #ffffff;letter-spacing:0.35px;">Monitoria</div>
<div class="t" style="left:337.68px;top:784.58px;font-size:9.83px;font-weight:700;color:#e9edf3;transform:scaleX(0.84);-webkit-text-stroke:0.4px #e9edf3;letter-spacing:0.38px;">Fonte: CENSUP ano 2019, 2020</div>
</body></html>
